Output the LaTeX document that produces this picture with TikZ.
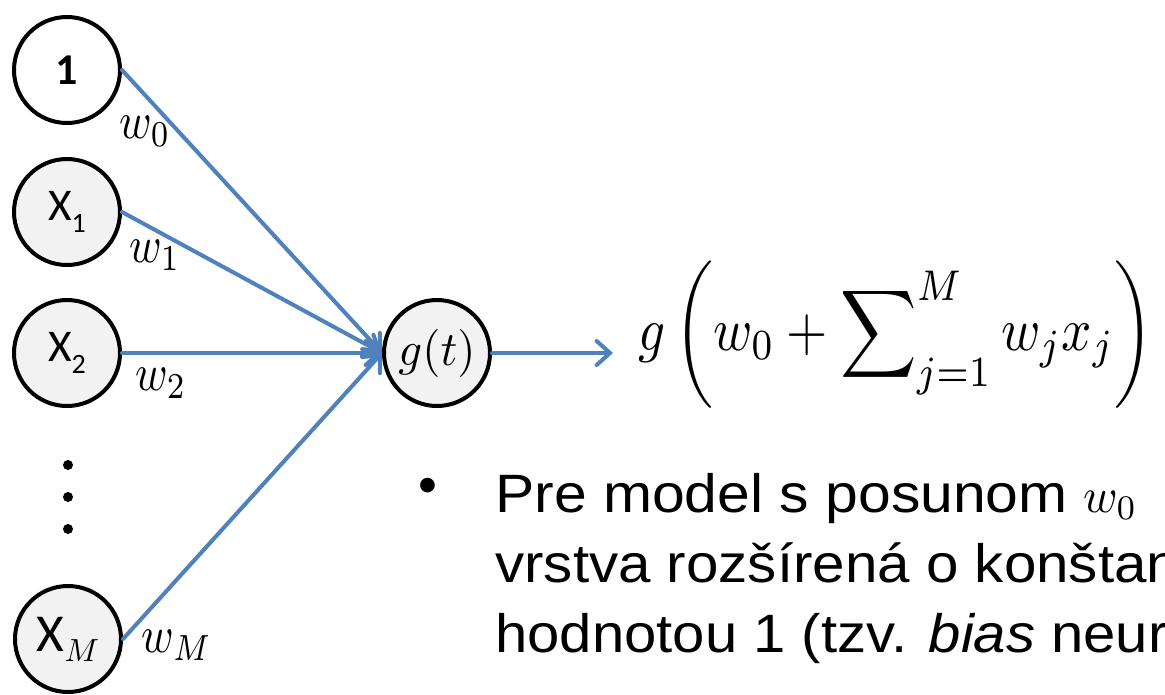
\documentclass[tikz,border=0pt]{standalone}
\usepackage{fix-cm}
\usepackage{graphicx}
\usepackage[no-math]{fontspec}
\setmainfont{Liberation Sans}
\newfontfamily\calibri{Carlito}
\usetikzlibrary{arrows.meta}
\definecolor{edgeblue}{HTML}{4F81BD}
\definecolor{nodegray}{HTML}{F2F2F2}
\newcommand\nsub[1]{\raisebox{-8.5pt}{\fontsize{21}{24}\selectfont #1}}
\newcommand\bigmath[3]{{\fontsize{10}{12}\selectfont\scalebox{#1}[#2]{$#3$}}}
\begin{document}
\begin{tikzpicture}[x=0.75pt,y=-0.75pt,
  neuron/.style={circle,draw=black,line width=3pt,minimum size=79.5pt,inner sep=0pt,fill=nodegray,font=\calibri\fontsize{34}{40}\selectfont},
  edge/.style={draw=edgeblue,line width=3pt,line cap=round,-{Straight Barb[length=10pt,width=18pt,line cap=round]}},
  wlabel/.style={inner sep=0pt},
  dot/.style={circle,fill=black,inner sep=0pt,minimum size=7.5pt},
  txt/.style={anchor=base west,inner sep=0pt,font=\fontsize{40.5}{52}\selectfont}]
\useasboundingbox (0,0) rectangle (1165,694);
\clip (0,0) rectangle (1165,694);
\fill[white] (0,0) rectangle (1165,694);
% input and hidden nodes
\node[neuron,fill=white,font=\calibri\bfseries\fontsize{33}{36}\selectfont] (n1) at (67,70) {1};
\node[neuron] (x1) at (67,212) {X\nsub{1}};
\node[neuron] (x2) at (67,353) {X\nsub{2}};
\node[neuron,font=\calibri\fontsize{40}{44}\selectfont] (xm) at (68,639) {X\raisebox{-7.5pt}{\bigmath{2.4}{2.4}{M}}};
\node[neuron] (g) at (437,353) {\bigmath{3.5}{3.6}{g(t)}};
% dots
\node[dot] (d1) at (68,465) {};
\node[dot] (d2) at (68,497) {};
\node[dot] (d3) at (68,529) {};
% edges
\draw[edge] (n1.east) -- (g.west);
\draw[edge] (x1.east) -- (g.west);
\draw[edge] (x2.east) -- (g.west);
\draw[edge] (xm.east) -- (g.west);
\coordinate (out) at (613,353);
\draw[edge] (g.east) -- (out);
% weight labels
\node[wlabel] (l0) at (145,131) {\bigmath{3.3}{3.9}{w_0}};
\node[wlabel] (l1) at (155,255) {\bigmath{3.3}{3.9}{w_1}};
\node[wlabel] (l2) at (161,383) {\bigmath{3.3}{3.9}{w_2}};
\node[wlabel] (lm) at (177,645) {\bigmath{3.3}{3.9}{w_M}};
% formula
\node[anchor=base west,inner sep=0pt] (f) at (638,350) {\bigmath{3.98}{4.6}{\displaystyle g\,\bigg(w_0+\sum\nolimits_{j=1}^{M} w_j x_j\bigg)}};
% bullet text
\node[inner sep=0pt,font=\fontsize{40.5}{52}\selectfont] (b) at (428,491) {\textbullet};
\node[txt] (t1) at (495,512) {\scalebox{1.09}[1]{Pre model s posunom}};
\node[txt] (t1w) at (1083,512) {\bigmath{3.5}{3.7}{w_0}};
\node[txt] (t2) at (495,582) {\scalebox{1.08}[1]{vrstva rozšírená o konštan}};
\node[txt] (t3) at (495,652) {\scalebox{1.075}[1]{hodnotou 1 (tzv. \textit{bias} neur}};
\end{tikzpicture}
\end{document}
